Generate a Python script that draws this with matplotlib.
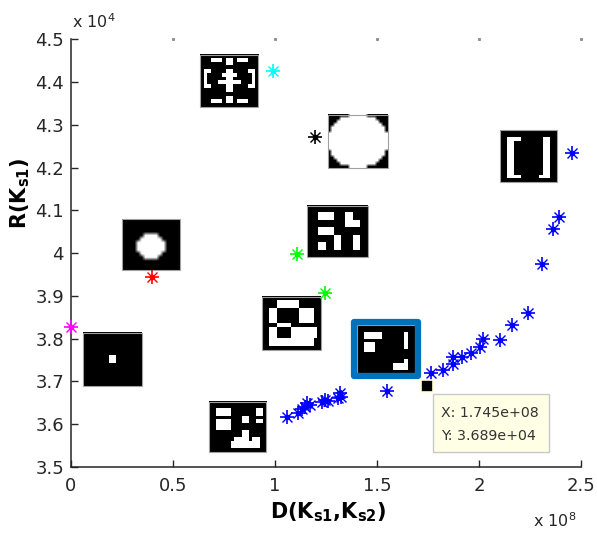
import numpy as np
import matplotlib
matplotlib.use('Agg')
import matplotlib.pyplot as plt
from matplotlib.patches import Rectangle

plt.rcParams['font.family'] = ['DejaVu Sans']
plt.rcParams['mathtext.fontset'] = 'dejavusans'

# D(Ks1,Ks2) and R(Ks1) values
blue_x = np.array([1.057, 1.114, 1.131, 1.147, 1.158, 1.172, 1.229, 1.245, 1.261,
                   1.310, 1.319, 1.324, 1.548, 1.765, 1.822, 1.871, 1.874, 1.915,
                   1.959, 2.005, 2.021, 2.103, 2.160, 2.242, 2.310, 2.361, 2.394,
                   2.456]) * 1e8
blue_y = np.array([3.616, 3.627, 3.635, 3.641, 3.649, 3.645, 3.653, 3.657, 3.654,
                   3.661, 3.672, 3.664, 3.678, 3.721, 3.727, 3.741, 3.758, 3.758,
                   3.767, 3.780, 3.799, 3.797, 3.832, 3.860, 3.976, 4.057, 4.085,
                   4.234]) * 1e4

single_x = np.array([0.0, 0.397, 0.99, 1.196, 1.108, 1.245]) * 1e8
single_y = np.array([3.828, 3.944, 4.426, 4.272, 3.998, 3.907]) * 1e4
single_colors = ['#ff00ff', '#ff0000', '#00ffff', '#000000', '#00ff00', '#00ff00']

tip_x = 1.745e8
tip_y = 3.689e4

x_ticks = np.array([0, 0.5, 1, 1.5, 2, 2.5]) * 1e8
y_ticks = np.array([3.5, 3.6, 3.7, 3.8, 3.9, 4.0, 4.1, 4.2, 4.3, 4.4, 4.5]) * 1e4

# thumbnails: '#' black, '.' white
img_cramp = ["################",
             "###...#..#...###",
             "#######..#######",
             "################",
             "#..####..####..#",
             "#.####....####.#",
             "#.#####..#####.#",
             "#.###......###.#",
             "#..####..####..#",
             "#######..#######",
             "################",
             "#######..#######",
             "###...#..#...###",
             "################"]
img_octagon = ["################",
               "################",
               "################",
               "################",
               "######....######",
               "#####......#####",
               "####........####",
               "####........####",
               "####........####",
               "#####......#####",
               "######....######",
               "################",
               "################",
               "################"]
img_ellipse = ["#######......#######",
               "####............####",
               "###..............###",
               "##................##",
               "#..................#",
               "#..................#",
               "....................",
               "....................",
               "....................",
               "....................",
               "....................",
               "....................",
               "#..................#",
               "#..................#",
               "##................##",
               "###..............###",
               "####............####",
               "#######......#######"]
img_bracket = ["################",
               "################",
               "##....######..##",
               "##..########..##",
               "##..########..##",
               "##..########..##",
               "##..########..##",
               "##..########..##",
               "##..########..##",
               "##..########..##",
               "##..########..##",
               "##..########..##",
               "##....#####...##",
               "################"]
img_blocks = ["################",
              "################",
              "###....###..####",
              "###....###..####",
              "##########....##",
              "##########....##",
              "###....#########",
              "###....#########",
              "#######..###..##",
              "#######..###..##",
              "###..##..###..##",
              "###..##..###..##",
              "################",
              "################"]
img_dot = ["################",
           "################",
           "################",
           "################",
           "################",
           "################",
           "#######..#######",
           "#######..#######",
           "################",
           "################",
           "################",
           "################",
           "################",
           "################"]
img_eight = ["################",
             "####......######",
             "####......######",
             "##..######....##",
             "##..######....##",
             "##..######....##",
             "##..######....##",
             "####....########",
             "##..####.......#",
             "##..####.......#",
             "##..####.......#",
             "##............##",
             "##............##",
             "################"]
img_stairs = ["################",
              "################",
              "##....#######..#",
              "##....#######..#",
              "#########..#####",
              "##....###..##..#",
              "##....##########",
              "##....##########",
              "#########..#####",
              "#########..#####",
              "#######....#..##",
              "######........##",
              "######........##",
              "################"]
img_selected = ["################",
                "################",
                "##.....######.##",
                "##.....######.##",
                "#############.##",
                "##...########.##",
                "##...########.##",
                "##...###########",
                "################",
                "################",
                "#############.##",
                "##########....##",
                "##########....##",
                "################"]

thumbs = [img_cramp, img_octagon, img_ellipse, img_bracket, img_blocks,
          img_dot, img_eight, img_stairs, img_selected]
# extents in axis units (x 1e8, y 1e4): left, right, bottom, top
thumb_ext = [(0.632, 0.917, 4.342, 4.464),
             (0.250, 0.534, 3.961, 4.080),
             (1.260, 1.554, 4.199, 4.323),
             (2.103, 2.382, 4.167, 4.288),
             (1.157, 1.456, 3.991, 4.111),
             (0.059, 0.348, 3.689, 3.813),
             (0.936, 1.225, 3.774, 3.898),
             (0.676, 0.956, 3.535, 3.652),
             (1.402, 1.686, 3.720, 3.832)]
# the round shapes look smoother in the original
thumb_interp = ['nearest', 'bilinear', 'bilinear', 'nearest', 'nearest',
                'nearest', 'nearest', 'nearest', 'nearest']

# data tip box, axis units: left, right, bottom, top
tip_box = (1.775, 2.343, 3.535, 3.671)


def to_array(rows):
    return np.array([[0.0 if c == '#' else 1.0 for c in r] for r in rows])


def star(ax, x, y, color):
    ax.plot(x, y, ls='none', marker='+', ms=10, mew=1.2, color=color, clip_on=False, zorder=5)
    ax.plot(x, y, ls='none', marker='x', ms=6.5, mew=1.0, color=color, clip_on=False, zorder=5)
    ax.plot(x, y, ls='none', marker='o', ms=3, color=color, clip_on=False, zorder=5)


fig = plt.figure(figsize=(5.97, 5.34), dpi=100)
ax = fig.add_axes([71 / 597, 1 - 467 / 534, 510 / 597, 427.5 / 534])

for rows, (x0, x1, y0, y1), interp in zip(thumbs, thumb_ext, thumb_interp):
    ax.imshow(to_array(rows), cmap='gray', vmin=0, vmax=1, interpolation=interp,
              extent=(x0 * 1e8, x1 * 1e8, y0 * 1e4, y1 * 1e4), aspect='auto', zorder=2)
    ax.add_patch(Rectangle((x0 * 1e8, y0 * 1e4), (x1 - x0) * 1e8, (y1 - y0) * 1e4,
                           fill=False, ec='#a0a0a0', lw=0.8, zorder=3))

# highlight around the selected thumbnail
sx0, sx1, sy0, sy1 = thumb_ext[-1]
ax.add_patch(Rectangle((sx0 * 1e8 - 0.015e8, sy0 * 1e4 - 0.007e4),
                       (sx1 - sx0) * 1e8 + 0.03e8, (sy1 - sy0) * 1e4 + 0.014e4,
                       fill=False, ec='#0072bd', lw=4.5, joinstyle='round', zorder=4))

star(ax, blue_x, blue_y, '#0000ff')
for x, y, c in zip(single_x, single_y, single_colors):
    star(ax, x, y, c)

# data tip
ax.plot(tip_x, tip_y, ls='none', marker='s', ms=8, mfc='black', mec='#ffffd8', mew=1.2, zorder=6)
bx0, bx1, by0, by1 = tip_box
ax.add_patch(Rectangle((bx0 * 1e8, by0 * 1e4), (bx1 - bx0) * 1e8, (by1 - by0) * 1e4,
                       fc='#ffffe6', ec='#c8c8c8', lw=1.0, zorder=6))
ax.text(bx0 * 1e8 + 0.039e8, by1 * 1e4 - 0.045e4, 'X: %.3e' % tip_x, fontsize=10.2,
        color='#333333', ha='left', va='center', zorder=7)
ax.text(bx0 * 1e8 + 0.039e8, by1 * 1e4 - 0.098e4, 'Y: %.3e' % tip_y, fontsize=10.2,
        color='#333333', ha='left', va='center', zorder=7)

ax.set_xlim(0, 2.5e8)
ax.set_ylim(3.5e4, 4.5e4)
ax.set_xticks(x_ticks)
ax.set_xticklabels(['%g' % (v / 1e8) for v in x_ticks])
ax.set_yticks(y_ticks)
ax.set_yticklabels(['%g' % round(v / 1e4, 1) for v in y_ticks])
ax.tick_params(direction='in', length=5, width=1, colors='#262626', labelsize=13)
ax.tick_params(axis='x', pad=7)
ax.tick_params(axis='y', pad=5)
for s in ['top', 'right']:
    ax.spines[s].set_visible(False)
for s in ['left', 'bottom']:
    ax.spines[s].set_color('#262626')
    ax.spines[s].set_linewidth(1.1)

# leftover dots of the top axis
ax.plot(x_ticks[1:], np.full(len(x_ticks) - 1, 4.5e4), ls='none', marker='s', ms=1.2,
        color='#909090', clip_on=False)

ax.text(0.504, -0.1193, r'D(K$_\mathbf{s1}$,K$_\mathbf{s2}$)', transform=ax.transAxes,
        ha='center', va='baseline', fontsize=15, fontweight='bold')
ax.text(-0.10, 0.641, r'R(K$_\mathbf{s1}$)', transform=ax.transAxes, rotation=90,
        ha='center', va='center', fontsize=15, fontweight='bold', rotation_mode='anchor')

fig.text(72 / 597, 1 - 28 / 534, r'x 10$^4$', fontsize=11.5, color='#262626',
         ha='left', va='baseline')
fig.text(533 / 597, 1 - 527 / 534, r'x 10$^8$', fontsize=11.5, color='#262626',
         ha='left', va='baseline')

fig.savefig('out.png', dpi=100)
